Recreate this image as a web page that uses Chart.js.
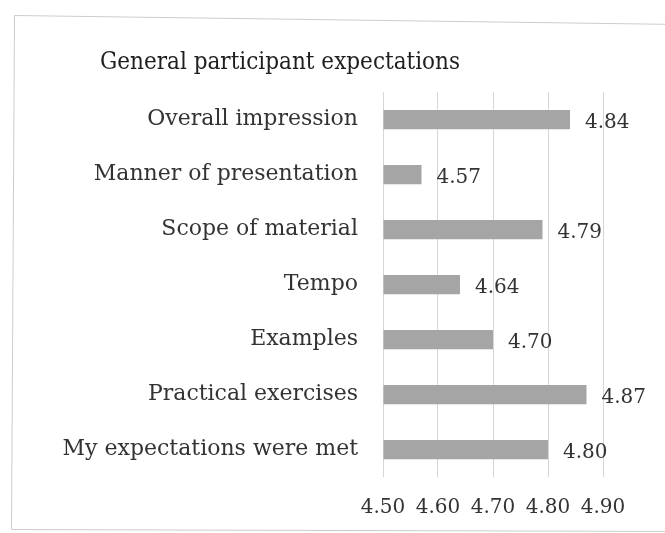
<!DOCTYPE html>
<html>
<head>
<meta charset="utf-8">
<script src="https://cdn.jsdelivr.net/npm/chart.js@4"></script>
<style>
  html, body { margin: 0; padding: 0; background: #ffffff; }
  #wrap { width: 665px; height: 533px; position: relative; }
</style>
</head>
<body>
<div id="wrap"><canvas id="c" width="665" height="533"></canvas></div>
<script>
const chartTitle = 'General participant expectations';
const categories = ['Overall impression', 'Manner of presentation', 'Scope of material', 'Tempo', 'Examples', 'Practical exercises', 'My expectations were met'];
const values = [4.84, 4.57, 4.79, 4.64, 4.70, 4.87, 4.80];
const axisMin = 4.50;
const axisMax = 4.90;
const axisStep = 0.10;

const serif = "'DejaVu Serif', 'Liberation Serif', serif";
const titleSerif = "'DejaVu Serif Condensed', 'DejaVu Serif', serif";
const textColor = '#333333';

const frame = {
  id: 'frame',
  beforeDraw(chart) {
    const ctx = chart.ctx;
    ctx.save();
    ctx.strokeStyle = '#cccccc';
    ctx.lineWidth = 1;
    ctx.beginPath();
    ctx.moveTo(680, 24.5);
    ctx.lineTo(14.5, 15.5);
    ctx.lineTo(11.5, 529.5);
    ctx.lineTo(680, 531.5);
    ctx.stroke();
    ctx.restore();
  }
};

const titleText = {
  id: 'titleText',
  afterDraw(chart) {
    const ctx = chart.ctx;
    ctx.save();
    ctx.font = '24px ' + titleSerif;
    ctx.fillStyle = '#1e1e1e';
    ctx.textAlign = 'left';
    ctx.textBaseline = 'alphabetic';
    ctx.fillText(chartTitle, 100, 69);
    ctx.restore();
  }
};

const valueLabels = {
  id: 'valueLabels',
  afterDatasetsDraw(chart) {
    const ctx = chart.ctx;
    const meta = chart.getDatasetMeta(0);
    ctx.save();
    ctx.font = '20px ' + serif;
    ctx.fillStyle = textColor;
    ctx.textAlign = 'left';
    ctx.textBaseline = 'middle';
    meta.data.forEach((bar, i) => {
      ctx.fillText(values[i].toFixed(2), bar.x + 15, bar.y + 3);
    });
    ctx.restore();
  }
};

new Chart(document.getElementById('c'), {
  type: 'bar',
  data: {
    labels: categories,
    datasets: [{
      data: values,
      base: axisMin,
      backgroundColor: '#a5a5a5',
      borderWidth: 0,
      barPercentage: 0.35,
      categoryPercentage: 1.0
    }]
  },
  options: {
    indexAxis: 'y',
    responsive: false,
    animation: false,
    devicePixelRatio: 1,
    layout: { padding: { left: 0, right: 62, top: 92, bottom: 13 } },
    plugins: {
      legend: { display: false },
      tooltip: { enabled: false },
      title: { display: false }
    },
    scales: {
      x: {
        min: axisMin,
        max: axisMax,
        grid: { color: '#d6d6d6', drawTicks: false, lineWidth: 1 },
        border: { display: false },
        ticks: {
          stepSize: axisStep,
          padding: 19,
          color: textColor,
          font: { family: serif, size: 20 },
          callback: (v) => Number(v).toFixed(2)
        },
        afterFit(scale) { scale.height = 43; }
      },
      y: {
        grid: { display: false, drawTicks: false },
        border: { display: false },
        ticks: {
          padding: 25,
          color: textColor,
          font: { family: serif, size: 22 }
        },
        afterFit(scale) { scale.width = 383; }
      }
    }
  },
  plugins: [frame, titleText, valueLabels]
});
</script>
</body>
</html>
